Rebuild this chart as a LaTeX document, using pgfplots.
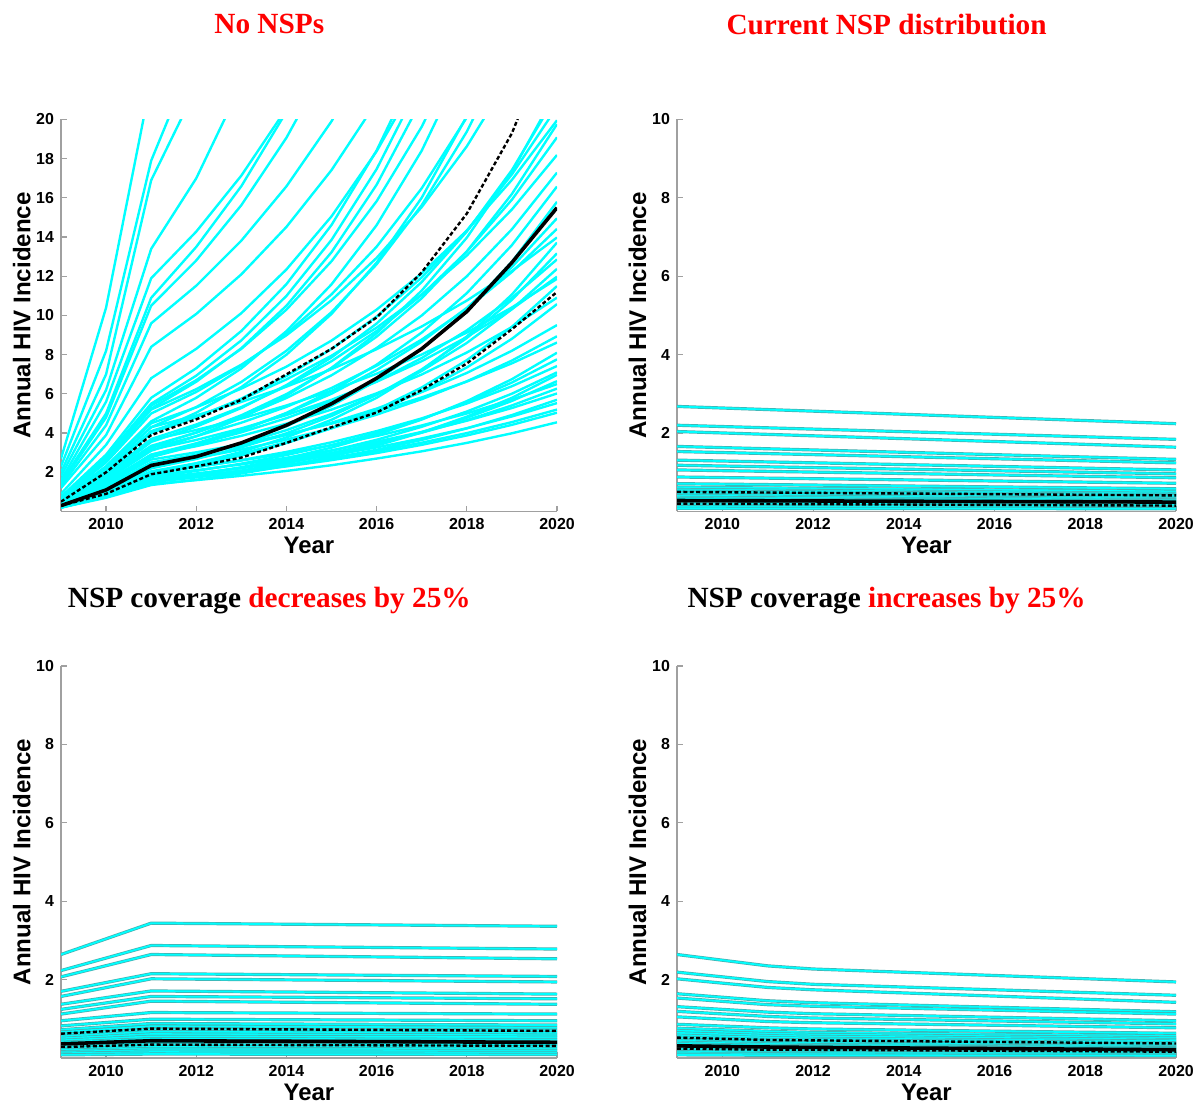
\documentclass[border=0pt]{standalone}
\usepackage{pgfplots}
\pgfplotsset{compat=1.18}
\usepackage{fontspec}
\setmainfont{Liberation Sans}
\newfontfamily\serifbf{Liberation Serif}
\definecolor{cyn}{RGB}{0,255,255}
\definecolor{edge}{RGB}{70,175,175}
\definecolor{axgray}{RGB}{160,160,160}
\definecolor{tred}{RGB}{255,0,0}

\pgfplotsset{
  panel/.style={
    scale only axis, height=196bp,
    xmin=2009, xmax=2020, ymin=0,
    enlargelimits=false,
    axis lines*=left,
    tick align=inside,
    major tick length=3pt,
    xtick={2010,2012,...,2020},
    axis line style={draw=axgray, line width=0.6pt},
    tick style={draw=axgray, line width=0.6pt},
    tick label style={font=\fontsize{8}{9}\selectfont\bfseries},
    /pgf/number format/assume math mode=true,
    /pgf/number format/1000 sep={},
    xlabel={Year}, ylabel={Annual HIV Incidence},
    every axis x label/.style={at={(axis description cs:0.5,-0.087)}, anchor=center,
      font=\fontsize{12}{14}\selectfont\bfseries},
    every axis y label/.style={at={(axis description cs:-0.079,0.5)}, rotate=90, anchor=center,
      font=\fontsize{12.1}{14}\selectfont\bfseries},
    every axis title/.style={anchor=center, font=\serifbf\bfseries\fontsize{14.7}{16}\selectfont},
  },
  cl/.style={draw=cyn, line width=1.2pt, line join=round},
  ce/.style={draw=cyn, line width=0.9pt, line join=round,
    preaction={draw=edge, line width=1.6pt}},
  med/.style={draw=black, line width=1.8pt, line join=round},
  ci/.style={draw=black, line width=1.2pt, dash pattern=on 2pt off 1.2pt},
}

\begin{document}
\begin{tikzpicture}
\useasboundingbox (0,0) rectangle (601.5bp,553.5bp);

% ---------- No NSPs ----------
\begin{axis}[panel, width=248bp, at={(30.5bp,297.75bp)}, anchor=south west,
  ymax=20, ytick={2,4,...,20},
  title={\textcolor{tred}{No NSPs}}, title style={at={(axis description cs:0.42,1.243)}}]
\addplot[cl] coordinates {(2009,0.20)(2010,0.75)(2011,1.40)(2012,1.60)(2013,1.82)(2014,2.07)(2015,2.36)(2016,2.70)(2017,3.07)(2018,3.50)(2019,3.99)(2020,4.55)};
\addplot[cl] coordinates {(2009,0.22)(2010,0.80)(2011,1.55)(2012,1.77)(2013,2.01)(2014,2.30)(2015,2.62)(2016,2.98)(2017,3.40)(2018,3.88)(2019,4.42)(2020,5.04)};
\addplot[cl] coordinates {(2009,0.25)(2010,0.85)(2011,1.60)(2012,1.82)(2013,2.08)(2014,2.37)(2015,2.70)(2016,3.08)(2017,3.51)(2018,4.00)(2019,4.56)(2020,5.20)};
\addplot[cl] coordinates {(2009,0.20)(2010,0.78)(2011,1.50)(2012,1.74)(2013,2.02)(2014,2.34)(2015,2.72)(2016,3.15)(2017,3.65)(2018,4.24)(2019,4.92)(2020,5.70)};
\addplot[cl] coordinates {(2009,0.30)(2010,0.95)(2011,1.85)(2012,2.11)(2013,2.40)(2014,2.74)(2015,3.12)(2016,3.56)(2017,4.06)(2018,4.63)(2019,5.28)(2020,6.02)};
\addplot[cl] coordinates {(2009,0.25)(2010,0.85)(2011,1.65)(2012,1.91)(2013,2.22)(2014,2.58)(2015,2.99)(2016,3.47)(2017,4.02)(2018,4.66)(2019,5.41)(2020,6.27)};
\addplot[cl] coordinates {(2009,0.20)(2010,0.75)(2011,1.50)(2012,1.77)(2013,2.09)(2014,2.46)(2015,2.91)(2016,3.43)(2017,4.05)(2018,4.78)(2019,5.64)(2020,6.65)};
\addplot[cl] coordinates {(2009,0.22)(2010,0.80)(2011,1.60)(2012,1.89)(2013,2.23)(2014,2.63)(2015,3.10)(2016,3.66)(2017,4.32)(2018,5.10)(2019,6.01)(2020,7.10)};
\addplot[cl] coordinates {(2009,0.30)(2010,1.00)(2011,1.95)(2012,2.26)(2013,2.62)(2014,3.04)(2015,3.53)(2016,4.10)(2017,4.75)(2018,5.51)(2019,6.39)(2020,7.42)};
\addplot[cl] coordinates {(2009,0.25)(2010,0.90)(2011,1.75)(2012,2.07)(2013,2.44)(2014,2.88)(2015,3.39)(2016,4.00)(2017,4.72)(2018,5.57)(2019,6.58)(2020,7.76)};
\addplot[cl] coordinates {(2009,0.20)(2010,0.80)(2011,1.57)(2012,1.88)(2013,2.26)(2014,2.71)(2015,3.26)(2016,3.91)(2017,4.69)(2018,5.63)(2019,6.75)(2020,8.10)};
\addplot[cl] coordinates {(2009,0.40)(2010,1.40)(2011,2.65)(2012,3.02)(2013,3.44)(2014,3.93)(2015,4.48)(2016,5.10)(2017,5.82)(2018,6.63)(2019,7.56)(2020,8.62)};
\addplot[cl] coordinates {(2009,0.35)(2010,1.30)(2011,2.50)(2012,2.90)(2013,3.36)(2014,3.90)(2015,4.53)(2016,5.25)(2017,6.09)(2018,7.07)(2019,8.20)(2020,9.51)};
\addplot[cl] coordinates {(2009,0.30)(2010,1.05)(2011,2.05)(2012,2.46)(2013,2.95)(2014,3.54)(2015,4.25)(2016,5.10)(2017,6.12)(2018,7.35)(2019,8.81)(2020,10.58)};
\addplot[cl] coordinates {(2009,0.30)(2010,1.00)(2011,2.00)(2012,2.28)(2013,2.60)(2014,2.96)(2015,3.38)(2016,3.85)(2017,4.39)(2018,5.00)(2019,5.71)(2020,6.50)};
\addplot[cl] coordinates {(2009,0.35)(2010,1.20)(2011,2.35)(2012,2.73)(2013,3.16)(2014,3.67)(2015,4.25)(2016,4.94)(2017,5.73)(2018,6.64)(2019,7.70)(2020,8.94)};
\addplot[cl] coordinates {(2009,0.20)(2010,0.70)(2011,1.35)(2012,1.62)(2013,1.94)(2014,2.33)(2015,2.80)(2016,3.36)(2017,4.03)(2018,4.84)(2019,5.80)(2020,6.97)};
\addplot[cl] coordinates {(2009,0.25)(2010,0.85)(2011,1.70)(2012,1.94)(2013,2.21)(2014,2.52)(2015,2.87)(2016,3.27)(2017,3.73)(2018,4.25)(2019,4.85)(2020,5.53)};
\addplot[cl] coordinates {(2009,0.30)(2010,0.95)(2011,1.92)(2012,2.34)(2013,2.86)(2014,3.49)(2015,4.25)(2016,5.19)(2017,6.33)(2018,7.72)(2019,9.42)(2020,11.50)};
\addplot[cl] coordinates {(2009,0.35)(2010,1.20)(2011,2.40)(2012,2.88)(2013,3.46)(2014,4.15)(2015,4.98)(2016,5.97)(2017,7.17)(2018,8.60)(2019,10.32)(2020,12.38)};
\addplot[cl] coordinates {(2009,0.40)(2010,1.50)(2011,2.90)(2012,3.42)(2013,4.04)(2014,4.76)(2015,5.62)(2016,6.63)(2017,7.83)(2018,9.24)(2019,10.90)(2020,12.86)};
\addplot[cl] coordinates {(2009,0.30)(2010,1.00)(2011,1.98)(2012,2.46)(2013,3.04)(2014,3.78)(2015,4.68)(2016,5.80)(2017,7.20)(2018,8.93)(2019,11.07)(2020,13.72)};
\addplot[cl] coordinates {(2009,0.45)(2010,1.70)(2011,3.25)(2012,3.84)(2013,4.53)(2014,5.34)(2015,6.30)(2016,7.44)(2017,8.77)(2018,10.35)(2019,12.22)(2020,14.42)};
\addplot[cl] coordinates {(2009,0.40)(2010,1.50)(2011,2.90)(2012,3.48)(2013,4.18)(2014,5.01)(2015,6.01)(2016,7.22)(2017,8.66)(2018,10.39)(2019,12.47)(2020,14.96)};
\addplot[cl] coordinates {(2009,0.40)(2010,1.40)(2011,2.77)(2012,3.38)(2013,4.12)(2014,5.03)(2015,6.14)(2016,7.49)(2017,9.13)(2018,11.14)(2019,13.59)(2020,16.58)};
\addplot[cl] coordinates {(2009,0.50)(2010,1.80)(2011,3.35)(2012,4.02)(2013,4.82)(2014,5.79)(2015,6.95)(2016,8.34)(2017,10.00)(2018,12.00)(2019,14.40)(2020,17.29)};
\addplot[cl] coordinates {(2009,0.55)(2010,2.10)(2011,4.10)(2012,4.84)(2013,5.71)(2014,6.74)(2015,7.95)(2016,9.38)(2017,11.07)(2018,13.06)(2019,15.41)(2020,18.19)};
\addplot[cl] coordinates {(2009,0.50)(2010,1.90)(2011,3.70)(2012,4.44)(2013,5.33)(2014,6.39)(2015,7.67)(2016,9.21)(2017,11.05)(2018,13.26)(2019,15.91)(2020,19.09)};
\addplot[cl] coordinates {(2009,0.45)(2010,1.70)(2011,3.30)(2012,4.03)(2013,4.91)(2014,5.99)(2015,7.31)(2016,8.92)(2017,10.88)(2018,13.27)(2019,16.20)(2020,19.76)};
\addplot[cl] coordinates {(2009,0.30)(2010,1.10)(2011,2.20)(2012,2.68)(2013,3.27)(2014,3.99)(2015,4.87)(2016,5.95)(2017,7.25)(2018,8.85)(2019,10.80)(2020,13.17)};
\addplot[cl] coordinates {(2009,0.35)(2010,1.15)(2011,2.28)(2012,2.83)(2013,3.51)(2014,4.35)(2015,5.39)(2016,6.68)(2017,8.29)(2018,10.28)(2019,12.74)(2020,15.80)};
\addplot[cl] coordinates {(2009,0.50)(2010,1.85)(2011,3.65)(2012,4.16)(2013,4.74)(2014,5.41)(2015,6.16)(2016,7.03)(2017,8.01)(2018,9.13)(2019,10.41)(2020,11.87)};
\addplot[cl] coordinates {(2009,0.45)(2010,1.60)(2011,3.15)(2012,3.65)(2013,4.24)(2014,4.92)(2015,5.70)(2016,6.62)(2017,7.67)(2018,8.90)(2019,10.33)(2020,11.98)};
\addplot[cl] coordinates {(2009,0.60)(2010,2.20)(2011,4.30)(2012,4.90)(2013,5.59)(2014,6.37)(2015,7.26)(2016,8.28)(2017,9.44)(2018,10.76)(2019,12.27)(2020,13.98)};
\addplot[cl] coordinates {(2009,0.40)(2010,1.45)(2011,2.87)(2012,3.33)(2013,3.86)(2014,4.48)(2015,5.20)(2016,6.03)(2017,6.99)(2018,8.11)(2019,9.41)(2020,10.91)};
\addplot[cl] coordinates {(2009,0.50)(2010,1.80)(2011,3.55)(2012,4.33)(2013,5.28)(2014,6.45)(2015,7.86)(2016,9.59)(2017,11.71)(2018,14.28)(2019,17.42)(2020,21.26)};
\addplot[cl] coordinates {(2009,0.55)(2010,2.00)(2011,4.00)(2012,4.80)(2013,5.76)(2014,6.91)(2015,8.29)(2016,9.95)(2017,11.94)(2018,14.33)(2019,17.20)(2020,20.64)};
\addplot[cl] coordinates {(2009,0.45)(2010,1.60)(2011,3.10)(2012,3.84)(2013,4.77)(2014,5.91)(2015,7.33)(2016,9.09)(2017,11.27)(2018,13.97)(2019,17.33)(2020,21.49)};
\addplot[cl] coordinates {(2009,0.60)(2010,2.30)(2011,4.50)(2012,5.31)(2013,6.27)(2014,7.39)(2015,8.72)(2016,10.30)(2017,12.15)(2018,14.33)(2019,16.92)(2020,19.96)};
\addplot[cl] coordinates {(2009,0.65)(2010,2.50)(2011,5.00)(2012,6.10)(2013,7.44)(2014,9.08)(2015,11.08)(2016,13.51)(2017,16.49)(2018,20.11)(2019,24.54)(2020,29.94)};
\addplot[cl] coordinates {(2009,0.55)(2010,2.00)(2011,4.00)(2012,5.04)(2013,6.35)(2014,8.00)(2015,10.08)(2016,12.70)(2017,16.01)(2018,20.17)(2019,25.41)(2020,32.02)};
\addplot[cl] coordinates {(2009,0.70)(2010,2.60)(2011,5.20)(2012,6.24)(2013,7.49)(2014,8.99)(2015,10.78)(2016,12.94)(2017,15.53)(2018,18.63)(2019,22.36)(2020,26.83)};
\addplot[cl] coordinates {(2009,0.60)(2010,2.20)(2011,4.30)(2012,5.33)(2013,6.61)(2014,8.20)(2015,10.17)(2016,12.61)(2017,15.63)(2018,19.38)(2019,24.03)(2020,29.80)};
\addplot[cl] coordinates {(2009,0.75)(2010,2.90)(2011,5.80)(2012,7.31)(2013,9.21)(2014,11.60)(2015,14.62)(2016,18.42)(2017,23.21)(2018,29.24)};
\addplot[cl] coordinates {(2009,0.70)(2010,2.80)(2011,5.50)(2012,6.93)(2013,8.73)(2014,11.00)(2015,13.86)(2016,17.47)(2017,22.01)(2018,27.73)};
\addplot[cl] coordinates {(2009,0.90)(2010,3.40)(2011,6.80)(2012,8.30)(2013,10.12)(2014,12.35)(2015,15.06)(2016,18.38)(2017,22.42)(2018,27.35)};
\addplot[cl] coordinates {(2009,0.70)(2010,2.70)(2011,5.25)(2012,6.62)(2013,8.33)(2014,10.50)(2015,13.23)(2016,16.67)(2017,21.01)(2018,26.47)};
\addplot[cl] coordinates {(2009,0.70)(2010,2.70)(2011,5.40)(2012,6.70)(2013,8.30)(2014,10.30)(2015,12.77)(2016,15.83)(2017,19.63)(2018,24.34)};
\addplot[cl] coordinates {(2009,0.60)(2010,2.30)(2011,4.60)(2012,5.80)(2013,7.30)(2014,9.20)(2015,11.59)(2016,14.61)(2017,18.41)(2018,23.19)};
\addplot[cl] coordinates {(2009,2.7)(2010,10.4)(2011,22)(2012,30)};
\addplot[cl] coordinates {(2009,2.3)(2010,8.2)(2011,17.9)(2012,23.5)(2013,30)};
\addplot[cl] coordinates {(2009,2.0)(2010,7.0)(2011,16.9)(2012,21.6)(2013,27)};
\addplot[cl] coordinates {(2009,1.8)(2010,6.2)(2011,13.4)(2012,17.0)(2013,21.8)(2014,28)};
\addplot[cl] coordinates {(2009,1.6)(2010,5.6)(2011,11.9)(2012,14.28)(2013,17.14)(2014,20.56)(2015,24.7)};
\addplot[cl] coordinates {(2009,1.5)(2010,5.0)(2011,10.9)(2012,13.5)(2013,16.6)(2014,20.4)(2015,25)};
\addplot[cl] coordinates {(2009,1.4)(2010,4.8)(2011,10.5)(2012,12.81)(2013,15.63)(2014,19.07)(2015,23.26)};
\addplot[cl] coordinates {(2009,1.3)(2010,4.4)(2011,9.6)(2012,11.52)(2013,13.82)(2014,16.59)(2015,19.91)(2016,23.9)};
\addplot[cl] coordinates {(2009,1.2)(2010,3.9)(2011,8.4)(2012,10.08)(2013,12.10)(2014,14.52)(2015,17.42)(2016,20.90)(2017,25)};
% median and interval
\addplot[ci] coordinates {(2009,0.5)(2010,2.0)(2011,3.9)(2012,4.7)(2013,5.7)(2014,7.0)(2015,8.3)(2016,9.9)(2017,12.2)(2018,15.2)(2019,19.3)(2020,25)};
\addplot[ci] coordinates {(2009,0.3)(2010,0.9)(2011,1.9)(2012,2.3)(2013,2.75)(2014,3.5)(2015,4.3)(2016,5.05)(2017,6.2)(2018,7.55)(2019,9.3)(2020,11.2)};
\addplot[med] coordinates {(2009,0.3)(2010,1.1)(2011,2.35)(2012,2.8)(2013,3.5)(2014,4.4)(2015,5.5)(2016,6.8)(2017,8.3)(2018,10.2)(2019,12.7)(2020,15.5)};
\end{axis}

% ---------- Current NSP distribution ----------
\begin{axis}[panel, width=249.5bp, at={(338.5bp,297.75bp)}, anchor=south west,
  ymax=10, ytick={2,4,...,10},
  title={\textcolor{tred}{Current NSP distribution}}, title style={at={(axis description cs:0.42,1.243)}}]
\addplot[ce] coordinates {(2009,2.68)(2020,2.24)};
\addplot[ce] coordinates {(2009,2.20)(2020,1.84)};
\addplot[ce] coordinates {(2009,2.04)(2020,1.64)};
\addplot[ce] coordinates {(2009,1.66)(2020,1.33)};
\addplot[ce] coordinates {(2009,1.53)(2020,1.24)};
\addplot[ce] coordinates {(2009,1.31)(2020,1.06)};
\addplot[ce] coordinates {(2009,1.18)(2020,0.96)};
\addplot[ce] coordinates {(2009,1.06)(2020,0.86)};
\addplot[ce] coordinates {(2009,0.88)(2020,0.72)};
\addplot[ce] coordinates {(2009,0.71)(2020,0.58)};
\addplot[ce] coordinates {(2009,0.62)(2020,0.51)};
\addplot[ce] coordinates {(2009,0.56)(2020,0.46)};
\addplot[ce] coordinates {(2009,0.52)(2020,0.43)};
\addplot[ce] coordinates {(2009,0.48)(2020,0.40)};
\addplot[ce] coordinates {(2009,0.44)(2020,0.36)};
\addplot[ce] coordinates {(2009,0.40)(2020,0.33)};
\addplot[ce] coordinates {(2009,0.36)(2020,0.30)};
\addplot[ce] coordinates {(2009,0.32)(2020,0.27)};
\addplot[ce] coordinates {(2009,0.28)(2020,0.23)};
\addplot[ce] coordinates {(2009,0.24)(2020,0.20)};
\addplot[ce] coordinates {(2009,0.20)(2020,0.17)};
\addplot[ce] coordinates {(2009,0.16)(2020,0.13)};
\addplot[ce] coordinates {(2009,0.12)(2020,0.10)};
\addplot[ce] coordinates {(2009,0.08)(2020,0.07)};
\addplot[ci] coordinates {(2009,0.50)(2020,0.41)};
\addplot[ci] coordinates {(2009,0.20)(2020,0.15)};
\addplot[med] coordinates {(2009,0.28)(2020,0.24)};
\end{axis}

% ---------- coverage decreases by 25% ----------
\begin{axis}[panel, width=248bp, at={(30.5bp,24.5bp)}, anchor=south west,
  ymax=10, ytick={2,4,...,10},
  title={NSP coverage \textcolor{tred}{decreases by 25\%}}, title style={at={(axis description cs:0.42,1.166)}}]
\addplot[ce] coordinates {(2009,2.64)(2011,3.44)(2020,3.36)};
\addplot[ce] coordinates {(2009,2.23)(2011,2.87)(2020,2.78)};
\addplot[ce] coordinates {(2009,2.07)(2011,2.64)(2020,2.53)};
\addplot[ce] coordinates {(2009,1.70)(2011,2.15)(2020,2.08)};
\addplot[ce] coordinates {(2009,1.57)(2011,2.02)(2020,1.94)};
\addplot[ce] coordinates {(2009,1.37)(2011,1.71)(2020,1.63)};
\addplot[ce] coordinates {(2009,1.24)(2011,1.57)(2020,1.51)};
\addplot[ce] coordinates {(2009,1.12)(2011,1.45)(2020,1.37)};
\addplot[ce] coordinates {(2009,0.95)(2011,1.16)(2020,1.12)};
\addplot[ce] coordinates {(2009,0.82)(2011,0.99)(2020,0.95)};
\addplot[ce] coordinates {(2009,0.72)(2011,0.88)(2020,0.84)};
\addplot[ce] coordinates {(2009,0.66)(2011,0.81)(2020,0.77)};
\addplot[ce] coordinates {(2009,0.60)(2011,0.73)(2020,0.70)};
\addplot[ce] coordinates {(2009,0.55)(2011,0.67)(2020,0.64)};
\addplot[ce] coordinates {(2009,0.50)(2011,0.61)(2020,0.58)};
\addplot[ce] coordinates {(2009,0.45)(2011,0.55)(2020,0.53)};
\addplot[ce] coordinates {(2009,0.40)(2011,0.49)(2020,0.47)};
\addplot[ce] coordinates {(2009,0.36)(2011,0.44)(2020,0.42)};
\addplot[ce] coordinates {(2009,0.32)(2011,0.39)(2020,0.37)};
\addplot[ce] coordinates {(2009,0.28)(2011,0.34)(2020,0.33)};
\addplot[ce] coordinates {(2009,0.24)(2011,0.29)(2020,0.28)};
\addplot[ce] coordinates {(2009,0.20)(2011,0.24)(2020,0.23)};
\addplot[ce] coordinates {(2009,0.16)(2011,0.20)(2020,0.19)};
\addplot[ce] coordinates {(2009,0.12)(2011,0.15)(2020,0.14)};
\addplot[ce] coordinates {(2009,0.08)(2011,0.10)(2020,0.09)};
\addplot[ci] coordinates {(2009,0.62)(2011,0.75)(2020,0.69)};
\addplot[ci] coordinates {(2009,0.28)(2011,0.34)(2020,0.31)};
\addplot[med] coordinates {(2009,0.36)(2011,0.44)(2020,0.40)};
\end{axis}

% ---------- coverage increases by 25% ----------
\begin{axis}[panel, width=249.5bp, at={(338.5bp,24.5bp)}, anchor=south west,
  ymax=10, ytick={2,4,...,10},
  title={NSP coverage \textcolor{tred}{increases by 25\%}}, title style={at={(axis description cs:0.42,1.166)}}]
\addplot[ce] coordinates {(2009,2.64)(2011,2.35)(2012,2.27)(2020,1.94)};
\addplot[ce] coordinates {(2009,2.19)(2011,1.95)(2012,1.88)(2020,1.60)};
\addplot[ce] coordinates {(2009,2.02)(2011,1.80)(2012,1.74)(2020,1.42)};
\addplot[ce] coordinates {(2009,1.64)(2011,1.46)(2012,1.41)(2020,1.18)};
\addplot[ce] coordinates {(2009,1.53)(2011,1.36)(2012,1.32)(2020,1.12)};
\addplot[ce] coordinates {(2009,1.31)(2011,1.17)(2012,1.13)(2020,0.95)};
\addplot[ce] coordinates {(2009,1.19)(2011,1.06)(2012,1.02)(2020,0.87)};
\addplot[ce] coordinates {(2009,1.05)(2011,0.93)(2012,0.90)(2020,0.77)};
\addplot[ce] coordinates {(2009,0.86)(2011,0.77)(2012,0.74)(2020,0.63)};
\addplot[ce] coordinates {(2009,0.76)(2011,0.68)(2012,0.65)(2020,0.56)};
\addplot[ce] coordinates {(2009,0.70)(2011,0.62)(2012,0.60)(2020,0.51)};
\addplot[ce] coordinates {(2009,0.64)(2011,0.57)(2012,0.55)(2020,0.47)};
\addplot[ce] coordinates {(2009,0.58)(2011,0.52)(2012,0.50)(2020,0.43)};
\addplot[ce] coordinates {(2009,0.53)(2011,0.47)(2012,0.46)(2020,0.39)};
\addplot[ce] coordinates {(2009,0.48)(2011,0.43)(2012,0.41)(2020,0.35)};
\addplot[ce] coordinates {(2009,0.44)(2011,0.39)(2012,0.38)(2020,0.32)};
\addplot[ce] coordinates {(2009,0.40)(2011,0.36)(2012,0.34)(2020,0.29)};
\addplot[ce] coordinates {(2009,0.36)(2011,0.32)(2012,0.31)(2020,0.26)};
\addplot[ce] coordinates {(2009,0.32)(2011,0.28)(2012,0.28)(2020,0.24)};
\addplot[ce] coordinates {(2009,0.28)(2011,0.25)(2012,0.24)(2020,0.21)};
\addplot[ce] coordinates {(2009,0.24)(2011,0.21)(2012,0.21)(2020,0.18)};
\addplot[ce] coordinates {(2009,0.20)(2011,0.18)(2012,0.17)(2020,0.15)};
\addplot[ce] coordinates {(2009,0.16)(2011,0.14)(2012,0.14)(2020,0.12)};
\addplot[ce] coordinates {(2009,0.12)(2011,0.11)(2012,0.10)(2020,0.09)};
\addplot[ce] coordinates {(2009,0.08)(2011,0.07)(2012,0.07)(2020,0.06)};
\addplot[ci] coordinates {(2009,0.52)(2011,0.46)(2012,0.45)(2020,0.37)};
\addplot[ci] coordinates {(2009,0.24)(2011,0.21)(2012,0.21)(2020,0.16)};
\addplot[med] coordinates {(2009,0.31)(2011,0.28)(2012,0.27)(2020,0.21)};
\end{axis}
\end{tikzpicture}
\end{document}
